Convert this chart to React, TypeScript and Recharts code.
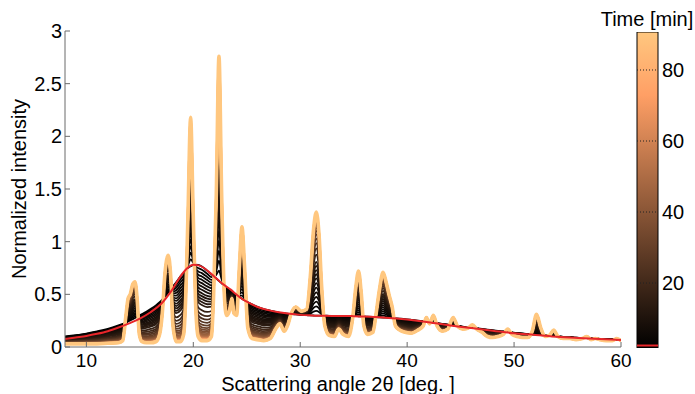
import { ComposedChart, Line, Bar, XAxis, YAxis, ReferenceLine, Label } from 'recharts'

// scattering angle grid (deg) with the t = 0 (amorphous) and final (crystalline) profiles
const ANGLE = [
  8.0, 9.0, 10.0, 11.0, 12.0, 13.0, 13.4, 13.7, 13.9, 14.1,
  14.35, 14.55, 14.75, 14.95, 15.2, 15.6, 16.0, 16.5, 16.85, 17.1,
  17.35, 17.65, 17.9, 18.1, 18.4, 18.8, 19.1, 19.3, 19.5, 19.75,
  19.97, 20.2, 20.45, 20.8, 21.3, 21.7, 21.9, 22.15, 22.4, 22.65,
  22.9, 23.1, 23.4, 23.6, 23.8, 24.05, 24.3, 24.55, 24.8, 25.1,
  25.5, 26.0, 26.6, 27.2, 27.7, 28.1, 28.5, 28.8, 29.2, 29.6,
  30.1, 30.6, 30.95, 31.25, 31.5, 31.75, 32.0, 32.3, 32.7, 33.2,
  33.6, 34.0, 34.5, 34.9, 35.2, 35.45, 35.7, 35.95, 36.3, 36.8,
  37.1, 37.4, 37.75, 38.0, 38.3, 38.6, 38.9, 39.3, 39.8, 40.4,
  41.0, 41.5, 41.8, 42.1, 42.45, 42.8, 43.3, 43.8, 44.3, 44.7,
  45.2, 45.7, 46.1, 46.5, 47.0, 47.5, 48.0, 48.5, 49.0, 49.4,
  49.8, 50.3, 50.8, 51.3, 51.7, 52.1, 52.5, 52.9, 53.3, 53.7,
  54.1, 54.6, 55.2, 55.8, 56.4, 56.8, 57.2, 57.6, 58.0, 58.6,
  59.2, 59.6, 60.0,
]
const AMORPHOUS = [
  0.100, 0.112, 0.128, 0.148, 0.172, 0.205, 0.220, 0.232, 0.242, 0.252,
  0.265, 0.275, 0.287, 0.298, 0.312, 0.335, 0.360, 0.395, 0.425, 0.450,
  0.480, 0.515, 0.545, 0.575, 0.615, 0.670, 0.705, 0.730, 0.750, 0.768,
  0.778, 0.782, 0.780, 0.765, 0.725, 0.690, 0.672, 0.650, 0.628, 0.605,
  0.585, 0.565, 0.540, 0.525, 0.510, 0.492, 0.475, 0.458, 0.442, 0.425,
  0.405, 0.382, 0.360, 0.345, 0.333, 0.325, 0.320, 0.316, 0.312, 0.309,
  0.305, 0.302, 0.300, 0.299, 0.298, 0.298, 0.297, 0.297, 0.296, 0.296,
  0.295, 0.295, 0.294, 0.294, 0.293, 0.292, 0.291, 0.290, 0.288, 0.285,
  0.283, 0.282, 0.280, 0.278, 0.276, 0.274, 0.272, 0.269, 0.265, 0.258,
  0.250, 0.244, 0.240, 0.236, 0.232, 0.227, 0.220, 0.213, 0.205, 0.200,
  0.193, 0.187, 0.182, 0.177, 0.171, 0.165, 0.159, 0.153, 0.147, 0.143,
  0.138, 0.133, 0.128, 0.123, 0.119, 0.116, 0.113, 0.109, 0.106, 0.103,
  0.100, 0.097, 0.093, 0.089, 0.086, 0.084, 0.082, 0.080, 0.078, 0.075,
  0.072, 0.070, 0.068,
]
const CRYSTAL = [
  0.03, 0.03, 0.03, 0.03, 0.035, 0.04, 0.06, 0.30, 0.46, 0.50,
  0.60, 0.62, 0.45, 0.12, 0.05, 0.04, 0.04, 0.05, 0.12, 0.32,
  0.70, 0.87, 0.65, 0.20, 0.05, 0.05, 0.12, 0.50, 1.25, 2.18,
  1.35, 0.45, 0.10, 0.06, 0.06, 0.10, 0.50, 1.45, 2.76, 1.45,
  0.50, 0.30, 0.35, 0.46, 0.32, 0.30, 0.75, 1.14, 0.75, 0.18,
  0.08, 0.07, 0.06, 0.08, 0.17, 0.22, 0.15, 0.20, 0.33, 0.38,
  0.34, 0.36, 0.68, 1.12, 1.28, 1.08, 0.58, 0.20, 0.11, 0.10,
  0.17, 0.12, 0.10, 0.27, 0.57, 0.72, 0.52, 0.20, 0.12, 0.14,
  0.32, 0.54, 0.71, 0.63, 0.50, 0.38, 0.20, 0.16, 0.14, 0.13,
  0.16, 0.20, 0.28, 0.22, 0.30, 0.20, 0.15, 0.17, 0.28, 0.20,
  0.17, 0.18, 0.21, 0.17, 0.14, 0.10, 0.09, 0.10, 0.12, 0.17,
  0.12, 0.10, 0.09, 0.09, 0.15, 0.31, 0.18, 0.10, 0.11, 0.16,
  0.10, 0.08, 0.08, 0.07, 0.08, 0.10, 0.07, 0.08, 0.07, 0.06,
  0.06, 0.08, 0.06,
]

// red amorphous fit
const FIT_ANGLE = [
  8, 9, 10, 11, 12, 13, 14, 15, 16, 17, 18, 19,
  19.5, 20, 20.5, 21, 21.5, 22, 22.5, 23, 23.5, 24, 24.5, 25,
  26, 27, 28, 29, 30, 31, 32, 33, 34, 35, 36, 37, 38, 39, 40,
  42, 44, 46, 48, 50, 52, 54, 56, 58, 60,
]
const FIT_INTENSITY = [
  0.075, 0.09, 0.105, 0.125, 0.15, 0.185, 0.225, 0.27, 0.33, 0.41, 0.54, 0.70,
  0.755, 0.78, 0.775, 0.75, 0.71, 0.665, 0.62, 0.58, 0.545, 0.50, 0.46, 0.43,
  0.38, 0.35, 0.33, 0.315, 0.305, 0.30, 0.297, 0.295, 0.295, 0.293, 0.29, 0.285, 0.278, 0.27, 0.26,
  0.235, 0.205, 0.18, 0.155, 0.13, 0.115, 0.097, 0.085, 0.075, 0.066,
]

// measurement times (min) and crystalline fraction of each pattern
const TIMES = [0, 1, 2, 3, 4, 5, 6, 7, 8, 9, 10, 11, 12, 15, 18, 21, 24, 27, 30, 33,
  36, 39, 42, 45, 48, 51, 54, 57, 60, 63, 66, 69, 72, 75, 78, 81, 84, 87, 90]
const FRACTION = [0, 0.045, 0.09, 0.135, 0.18, 0.225, 0.27, 0.315, 0.36, 0.40, 0.44, 0.48, 0.52,
  0.59, 0.65, 0.70, 0.745, 0.785, 0.82, 0.848, 0.872, 0.893, 0.91, 0.925, 0.938, 0.948, 0.956,
  0.963, 0.969, 0.974, 0.978, 0.982, 0.985, 0.988, 0.99, 0.992, 0.994, 0.997, 1.0]

const X_TICKS = [10, 20, 30, 40, 50, 60]
const Y_TICKS = [0, 0.5, 1, 1.5, 2, 2.5, 3]
const TIME_TICKS = [20, 40, 60, 80]
const TIME_RANGE = [1.7, 90.7]

const FONT = '"Liberation Sans", Arial, Helvetica, sans-serif'
const AXIS = '#6b6b6b'
const FIT_RED = '#e8262a'

function copper(v: number) {
  const c = Math.max(0, Math.min(1, v))
  const r = Math.round(255 * Math.min(1, 1.25 * c))
  const g = Math.round(255 * 0.7812 * c)
  const b = Math.round(255 * 0.4975 * c)
  return `rgb(${r},${g},${b})`
}

const rows = ANGLE.map((x, i) => {
  const row: Record<string, number> = { x }
  FRACTION.forEach((f, k) => {
    row[`t${k}`] = AMORPHOUS[i] + f * (CRYSTAL[i] - AMORPHOUS[i])
  })
  return row
})
const fitRows = FIT_ANGLE.map((x, i) => ({ x, y: FIT_INTENSITY[i] }))
const barRows = [{ name: 'time', span: TIME_RANGE }]

const YTitle = (props: any) => {
  const vb = props.viewBox || { x: 0, y: 31, width: 65, height: 316 }
  const cx = vb.x + 19
  const cy = vb.y + vb.height / 2
  return (
    <text x={cx} y={cy} transform={`rotate(-90 ${cx} ${cy})`} textAnchor="middle"
      dominantBaseline="central" fontSize={20} fill="#000" fontFamily={FONT}>
      Normalized intensity
    </text>
  )
}

const BarTitle = (props: any) => {
  const vb = props.viewBox || { x: 658, y: 32 }
  return (
    <text x={vb.x - 11} y={vb.y - 6} textAnchor="middle" fontSize={20} fill="#000" fontFamily={FONT}>
      Time [min]
    </text>
  )
}

export default function App() {
  const last = FRACTION.length - 1
  return (
    <div style={{ position: 'absolute', left: 0, top: 0, width: 695, height: 394, background: '#fff', fontFamily: FONT }}>
      <div style={{ position: 'absolute', left: 0, top: 0 }}>
        <ComposedChart width={695} height={394} data={rows} margin={{ top: 31, right: 74, bottom: 0, left: 0 }}>
          <XAxis
            type="number" dataKey="x" domain={[8, 60]} ticks={X_TICKS} allowDataOverflow
            height={47} tickSize={-5} tickMargin={12}
            stroke={AXIS} tick={{ fill: '#000', fontSize: 19 }}
          >
            <Label value="Scattering angle 2θ [deg. ]" position="insideBottom" offset={3} dx={-5}
              style={{ fontSize: 20, fill: '#000' }} />
          </XAxis>
          <YAxis
            type="number" domain={[0, 3]} ticks={Y_TICKS} allowDataOverflow
            width={65} tickSize={-5} tickMargin={8}
            stroke={AXIS} tick={{ fill: '#000', fontSize: 20 }}
          >
            <Label content={YTitle} />
          </YAxis>
          {FRACTION.map((f, k) => (
            <Line
              key={k} dataKey={`t${k}`} type="monotone" dot={false} activeDot={false}
              stroke={copper(TIMES[k] / 90)} strokeWidth={k === last ? 3.6 : k > last - 6 ? 2.4 : 1.8}
              isAnimationActive={false}
            />
          ))}
          <Line data={fitRows} dataKey="y" type="monotone" dot={false} activeDot={false}
            stroke={FIT_RED} strokeWidth={2} isAnimationActive={false} />
        </ComposedChart>
      </div>
      <div style={{ position: 'absolute', left: 0, top: 0 }}>
        <ComposedChart width={695} height={394} data={barRows} barCategoryGap={0}
          margin={{ top: 32, right: 0, bottom: 46, left: 637 }}>
          <defs>
            <linearGradient id="copperMap" x1="0" y1="1" x2="0" y2="0">
              <stop offset="0" stopColor={copper(0)} />
              <stop offset="0.8" stopColor={copper(0.8)} />
              <stop offset="1" stopColor={copper(1)} />
            </linearGradient>
          </defs>
          <XAxis dataKey="name" hide />
          <YAxis
            orientation="right" type="number" domain={TIME_RANGE} ticks={TIME_TICKS} allowDataOverflow
            width={37} axisLine={false} tickSize={-21} tickMargin={25}
            tickLine={{ stroke: '#222', strokeDasharray: '1 2' }}
            tick={{ fill: '#000', fontSize: 20 }}
          >
            <Label content={BarTitle} />
          </YAxis>
          <Bar dataKey="span" fill="url(#copperMap)" stroke="#000" strokeWidth={1} isAnimationActive={false} />
          <ReferenceLine y={2.4} stroke={FIT_RED} strokeWidth={2} />
        </ComposedChart>
      </div>
    </div>
  )
}
